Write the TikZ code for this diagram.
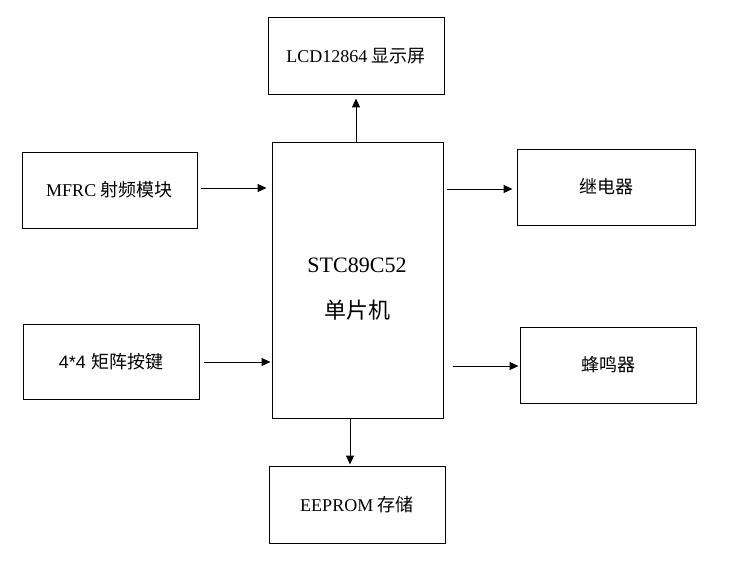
\documentclass[tikz,border=0pt]{standalone}
\usepackage{fontspec}
\setmainfont{Liberation Serif}
\newfontfamily\cjk{Noto Sans CJK SC}
\newfontfamily\lsans{Liberation Sans}
\usetikzlibrary{arrows.meta}
\begin{document}
\begin{tikzpicture}[x=1pt,y=-1pt,
  blk/.style={draw,line width=1pt,inner sep=0pt,font=\fontsize{18}{21}\selectfont},
  arr/.style={line width=1pt,-{Triangle[length=9pt,width=8pt]}},
  big/.style={inner sep=0pt,font=\fontsize{22}{26}\selectfont}]
\useasboundingbox[fill=white] (0,0) rectangle (754,575);
\node[blk,minimum width=176pt,minimum height=77pt] (lcd) at (356,56.5) {LCD12864 {\cjk 显示屏}};
\node[blk,minimum width=171pt,minimum height=276pt] (mcu) at (357.5,280) {};
\node[big] (t1) at (357,265) {STC89C52};
\node[big] (t2) at (357,310) {\cjk 单片机};
\node[blk,minimum width=175pt,minimum height=76pt] (mfrc) at (109.5,190) {MFRC {\cjk 射频模块}};
\node[blk,minimum width=176pt,minimum height=75pt] (key) at (111,361.5) {\lsans 4*4 \cjk 矩阵按键};
\node[blk,minimum width=178pt,minimum height=76pt] (relay) at (606,187) {\cjk 继电器};
\node[blk,minimum width=176pt,minimum height=76pt] (buzz) at (608,365) {\cjk 蜂鸣器};
\node[blk,minimum width=176pt,minimum height=77pt] (eep) at (357,504.5) {EEPROM {\cjk 存储}};
\coordinate (ua) at (356,142);
\coordinate (da) at (350,418);
\draw[arr,shorten >=3pt] (ua) -- (ua |- lcd.south);
\draw[arr,shorten >=1pt] (da) -- (da |- eep.north);
\draw[arr,shorten <=3pt,shorten >=5pt] (mfrc.east |- 0,188) -- (mcu.west |- 0,188);
\draw[arr,shorten <=4pt,shorten >=1pt] (key.east |- 0,362) -- (mcu.west |- 0,362);
\draw[arr,shorten <=3pt,shorten >=4pt] (mcu.east |- 0,189) -- (relay.west |- 0,189);
\draw[arr,shorten <=9pt,shorten >=1pt] (mcu.east |- 0,366) -- (buzz.west |- 0,366);
\end{tikzpicture}
\end{document}
